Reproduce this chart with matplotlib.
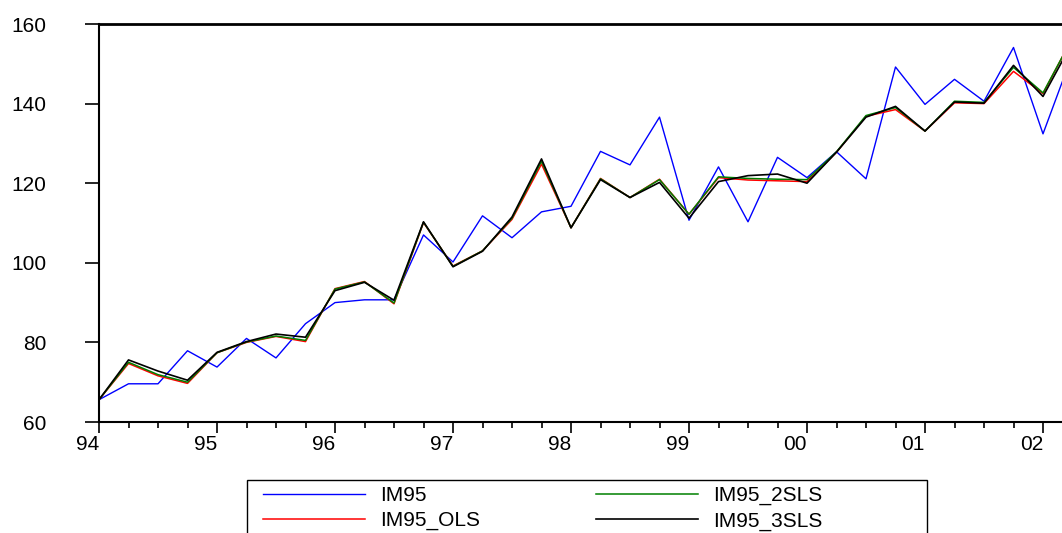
import numpy as np
import matplotlib
matplotlib.use("Agg")
import matplotlib.pyplot as plt
from matplotlib.patches import Rectangle

plt.rcParams['font.family'] = ['Liberation Sans', 'DejaVu Sans']

# quarterly, 1994Q1 .. 2002Q2
quarters = 1994 + 0.25 * np.arange(34)

im95 = [65.6, 69.6, 69.6, 77.9, 73.8, 81.0, 76.1, 84.7, 90.0, 90.7, 90.7, 107.0,
        100.2, 111.8, 106.3, 112.8, 114.2, 128.0, 124.6, 136.6, 110.7, 124.1, 110.3, 126.5,
        121.4, 127.9, 121.1, 149.2, 139.8, 146.1, 140.6, 154.1, 132.4, 152.4]
im95_ols = [65.6, 74.7, 71.6, 69.7, 77.4, 80.0, 81.5, 80.2, 93.5, 95.3, 89.7, 110.1,
            99.2, 103.0, 110.9, 124.8, 108.8, 121.2, 116.4, 121.0, 112.2, 121.4, 120.8, 120.6,
            120.4, 127.8, 136.8, 138.5, 133.1, 140.2, 140.0, 148.1, 142.5, 156.6]
im95_2sls = [65.6, 75.0, 71.9, 70.0, 77.4, 80.1, 81.6, 80.5, 93.4, 95.2, 89.9, 110.2,
             99.1, 103.0, 111.2, 125.5, 108.8, 121.1, 116.4, 120.9, 112.2, 121.6, 121.2, 121.0,
             120.9, 127.9, 137.0, 139.0, 133.1, 140.6, 140.3, 149.1, 142.7, 156.5]
im95_3sls = [65.6, 75.6, 72.8, 70.5, 77.5, 80.2, 82.1, 81.3, 93.0, 95.1, 90.6, 110.3,
             99.0, 102.9, 111.5, 126.1, 108.8, 120.9, 116.4, 120.2, 111.2, 120.4, 121.9, 122.3,
             120.0, 127.8, 136.6, 139.3, 133.1, 140.4, 140.1, 149.6, 141.8, 155.4]

years = np.arange(1994, 2003)
year_labels = ['94', '95', '96', '97', '98', '99', '00', '01', '02']

fig = plt.figure(figsize=(10.62, 5.33), dpi=100)
ax = fig.add_axes([99 / 1062, 1 - 422 / 533, 1 - 99 / 1062, (422 - 24) / 533])

ax.plot(quarters, im95, color='#0000ff', lw=1.0, label='IM95')
ax.plot(quarters, im95_ols, color='#ff0000', lw=1.1, label='IM95_OLS')
ax.plot(quarters, im95_2sls, color='#008000', lw=1.1, label='IM95_2SLS')
ax.plot(quarters, im95_3sls, color='#000000', lw=1.2, label='IM95_3SLS')

ax.set_yticks([60, 80, 100, 120, 140, 160])
ax.set_xticks(years)
ax.set_xticklabels(year_labels, ha='right')
ax.set_xticks(quarters[quarters % 1 != 0], minor=True)
# limits after ticks, otherwise the minor ticks widen the view
ax.set_xlim(1994, 1994 + 963 / 118.0)
ax.set_ylim(60, 160)

ax.spines['right'].set_visible(False)
for s in ['left', 'bottom']:
    ax.spines[s].set_linewidth(1.5)
ax.spines['top'].set_linewidth(2)

ax.tick_params(axis='y', direction='out', length=10, width=1.2, pad=28, labelsize=15)
ax.tick_params(axis='x', which='major', direction='out', length=8, width=1.2, pad=1.5, labelsize=15)
ax.tick_params(axis='x', which='minor', direction='out', length=4.3, width=1.2)

# legend box (runs off the bottom edge like the original)
fig.patches.append(Rectangle((247 / 1062, -0.05), (927 - 247) / 1062, 0.05 + 53 / 533,
                             transform=fig.transFigure, fill=False, edgecolor='black', lw=1.0))
leg = fig.legend(loc='upper left', bbox_to_anchor=(263 / 1062, 1 - 486 / 533), ncol=2,
                 fontsize=15, frameon=False,
                 handlelength=4.9, handletextpad=0.7, columnspacing=5.6,
                 labelspacing=0.3, borderpad=0, borderaxespad=0)

fig.savefig('out.png', dpi=100)
